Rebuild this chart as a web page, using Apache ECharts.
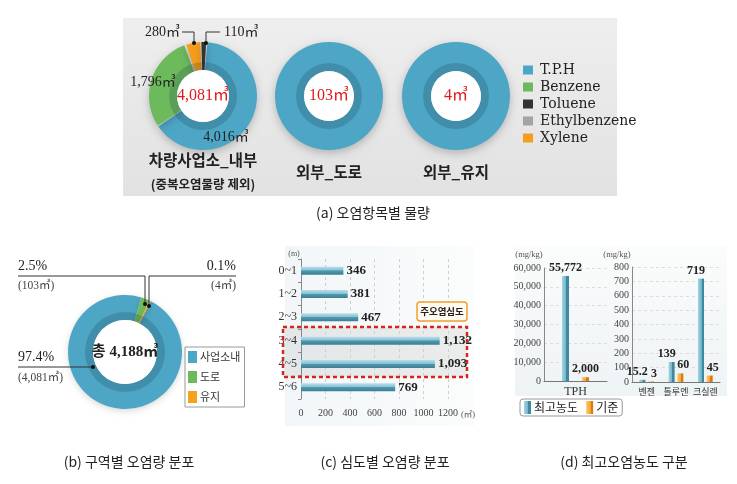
<!DOCTYPE html>
<html><head><meta charset="utf-8">
<script src="https://cdn.jsdelivr.net/npm/echarts@6/dist/echarts.min.js"></script>
<style>html,body{margin:0;padding:0;background:#fff}#c{width:737px;height:484px}</style>
</head><body><div id="c"></div>
<script>
// ---------- data ----------
const legendItemsA = ['T.P.H','Benzene','Toluene','Ethylbenzene','Xylene'];
const itemColors = {'T.P.H':'#4da6c5','Benzene':'#6dba5c','Toluene':'#333333','Ethylbenzene':'#a3a3a3','Xylene':'#f59d1c'};
const insideItems = ['T.P.H','Benzene','Ethylbenzene','Xylene','Toluene'];
const insideValues = [4016, 1796, 0, 280, 110];
const zoneNames = ['차량사업소_내부','외부_도로','외부_유지'];
const zoneTotals = [4081, 103, 4];
const roadValues = [103];
const parkValues = [4];

const areaNames = ['사업소내','도로','유지'];
const areaValues = [4081, 103, 4];
const areaColors = ['#4da6c5','#6dba5c','#f5a11c'];

const depthCats = ['0~1','1~2','2~3','3~4','4~5','5~6'];
const depthValues = [346, 381, 467, 1132, 1093, 769];
const depthTicks = [0, 1200, 200];

const tphCats = ['TPH'];
const tphMax = [55772];
const tphStd = [2000];
const btxCats = ['벤젠','톨루엔','크실렌'];
const btxMax = [15.2, 139, 719];
const btxStd = [3, 60, 45];

const captions = ['(a) 오염항목별 물량','(b) 구역별 오염량 분포','(c) 심도별 오염량 분포','(d) 최고오염농도 구분'];

// ---------- helpers ----------
const fmt = v => echarts.format.addCommas(v);
const serif = "'Liberation Serif','DejaVu Serif','Noto Sans CJK KR',serif";
const kr = "'Noto Sans CJK KR',sans-serif";
function T(text, x, y, o) {
  o = o || {};
  const al = o.align || 'center';
  return {type:'text', z: o.z || 50, silent:true, style:{text:text, x:x, y:y, fill:o.fill || '#222',
    font:(o.weight || 'normal') + ' ' + (o.size || 13) + 'px ' + (o.family || serif),
    align:al, textAlign:al, verticalAlign:'middle', textVerticalAlign:'middle'}};
}
function line(points, z) { return {type:'polyline', z: z || 60, silent:true, shape:{points:points}, style:{stroke:'#333', lineWidth:1, fill:null}}; }
function dot(x, y) { return {type:'circle', z:61, silent:true, shape:{cx:x, cy:y, r:2}, style:{fill:'#111'}}; }

function donut(center, data, r0, r1, start, pad, extra) {
  return [
    Object.assign({type:'pie', center:center, radius:[r0, r1], startAngle:start, clockwise:true, padAngle:pad,
      label:{show:false}, labelLine:{show:false}, silent:true, z:2,
      itemStyle:{shadowBlur:8, shadowColor:'rgba(0,0,0,0.22)', shadowOffsetY:3}, data:data}, extra || {}),
    {type:'pie', center:center, radius:[r0, r0 + 8], silent:true, z:3, label:{show:false}, labelLine:{show:false},
      itemStyle:{color:'rgba(20,50,70,0.2)'}, data:[{value:1, name:'_band'}]},
    {type:'pie', center:center, radius:[0, r0], silent:true, z:3, label:{show:false}, labelLine:{show:false},
      itemStyle:{color:'#fff'}, data:[{value:1, name:'_hole'}]}
  ];
}

const insideData = insideItems.map((n, i) => ({name:n, value:insideValues[i], itemStyle:{color:itemColors[n]}}));
const roadData = [{name:'T.P.H', value:roadValues[0], itemStyle:{color:itemColors['T.P.H']}}];
const parkData = [{name:'T.P.H', value:parkValues[0], itemStyle:{color:itemColors['T.P.H']}}];
const areaData = areaNames.map((n, i) => ({name:n, value:areaValues[i], itemStyle:{color:areaColors[i]}}));
const areaSum = areaValues.reduce((a, b) => a + b, 0);
const pct = v => (v / areaSum * 100).toFixed(1) + '%';

const blueBar = {type:'linear', x:0, y:0, x2:1, y2:0, colorStops:[{offset:0,color:'#a3d4e2'},{offset:0.62,color:'#6ab3c8'},{offset:0.63,color:'#3f889e'},{offset:1,color:'#3f889e'}]};
const orangeBar = {type:'linear', x:0, y:0, x2:1, y2:0, colorStops:[{offset:0,color:'#fcc862'},{offset:0.62,color:'#f7a531'},{offset:0.63,color:'#dc7a0e'},{offset:1,color:'#dc7a0e'}]};
const depthBar = {type:'linear', x:0, y:0, x2:0, y2:1, colorStops:[{offset:0,color:'#b9dfea'},{offset:0.45,color:'#86c1d3'},{offset:0.5,color:'#5298ae'},{offset:1,color:'#3c7f95'}]};

const valLabel = {show:true, position:'top', distance:2, formatter:p => fmt(p.value), fontFamily:serif, fontSize:12, fontWeight:'bold', color:'#222'};

// ---------- graphic ----------
const g = [];
// backgrounds
g.push({type:'rect', z:-5, silent:true, shape:{x:123, y:18, width:494, height:178},
  style:{fill:{type:'linear', x:0, y:0, x2:0, y2:1, colorStops:[{offset:0,color:'#eeeeee'},{offset:1,color:'#e2e2e2'}]}}});
g.push({type:'rect', z:-5, silent:true, shape:{x:285, y:246, width:190, height:180},
  style:{fill:{type:'linear', x:0, y:0, x2:1, y2:0, colorStops:[{offset:0,color:'#f2f6f8'},{offset:1,color:'#fbfcfc'}]}}});
g.push({type:'rect', z:-5, silent:true, shape:{x:515, y:246, width:212, height:150},
  style:{fill:{type:'linear', x:0, y:0, x2:0, y2:1, colorStops:[{offset:0,color:'#fbfcfc'},{offset:1,color:'#eef3f5'}]}}});
// main-depth highlight
g.push({type:'rect', z:-4, silent:true, shape:{x:283, y:327, width:184, height:50}, style:{fill:'rgba(150,150,150,0.15)'}});
g.push({type:'rect', z:100, silent:true, shape:{x:283, y:327, width:184, height:50}, style:{fill:null, stroke:'#d4261c', lineWidth:2.5, lineDash:[4,3]}});
g.push({type:'rect', z:100, silent:true, shape:{x:417, y:302, width:50, height:19, r:3}, style:{fill:'#fffaf0', stroke:'#f0a030', lineWidth:1.5}});
g.push(T('주오염심도', 442, 311.5, {family:kr, size:9.5, weight:'bold', z:101}));
g.push(T('(m)', 294, 254, {size:8, fill:'#555'}));
g.push(T('(㎥)', 461, 415, {size:8.5, fill:'#555', align:'left'}));
g.push(T('(mg/kg)', 529, 255, {size:8.5, fill:'#555'}));
g.push(T('(mg/kg)', 617, 255, {size:8.5, fill:'#555'}));

// (a) texts
g.push(T(fmt(insideValues[3]) + '㎥', 180, 32, {size:14, align:'right'}));
g.push(line([[182,32],[194,32],[194,43]]));
g.push(dot(194, 43));
g.push(T(fmt(insideValues[4]) + '㎥', 224, 32, {size:14, align:'left'}));
g.push(line([[220,32],[206,32],[206,43]]));
g.push(dot(206, 43));
g.push(T(fmt(insideValues[1]) + '㎥', 153, 82, {size:14}));
g.push(T(fmt(insideValues[0]) + '㎥', 226, 137, {size:14}));
[203, 329, 456].forEach((x, i) => {
  g.push(T(fmt(zoneTotals[i]) + '㎥', x, 96, {size:16, fill:'#e0191b'}));
});
g.push(T(zoneNames[0], 203, 160, {family:kr, size:15.5, weight:'bold'}));
g.push(T('(중복오염물량 제외)', 203, 184, {family:kr, size:12.5, weight:'bold'}));
g.push(T(zoneNames[1], 329, 172, {family:kr, size:15.5, weight:'bold'}));
g.push(T(zoneNames[2], 456, 172, {family:kr, size:15.5, weight:'bold'}));

// (b) texts
g.push(T('총 ' + fmt(areaSum) + '㎥', 125, 352, {size:15, weight:'bold'}));
g.push(T(pct(areaValues[1]), 18, 266, {size:14, align:'left'}));
g.push(T('(' + fmt(areaValues[1]) + '㎥)', 18, 286, {size:11.5, align:'left', fill:'#444'}));
g.push(line([[18,276],[145,276],[145,304]]));
g.push(dot(145, 304));
g.push(T(pct(areaValues[2]), 236, 266, {size:14, align:'right'}));
g.push(T('(' + fmt(areaValues[2]) + '㎥)', 236, 286, {size:11.5, align:'right', fill:'#444'}));
g.push(line([[236,276],[149,276],[149,306]]));
g.push(dot(149, 306));
g.push(T(pct(areaValues[0]), 18, 357, {size:14, align:'left'}));
g.push(T('(' + fmt(areaValues[0]) + '㎥)', 18, 378, {size:11.5, align:'left', fill:'#444'}));
g.push(line([[18,367],[93,367]]));
g.push(dot(93, 367));

// captions
g.push(T(captions[0], 373, 213, {family:kr, size:14}));
g.push(T(captions[1], 129, 462, {family:kr, size:14}));
g.push(T(captions[2], 385, 462, {family:kr, size:14}));
g.push(T(captions[3], 624, 462, {family:kr, size:14}));

// ---------- option ----------
const option = {
  animation:false,
  backgroundColor:'#fff',
  legend:[
    {data:legendItemsA, orient:'vertical', left:518, top:58, itemWidth:10, itemHeight:9, itemGap:3, icon:'rect',
      textStyle:{fontFamily:"'DejaVu Serif',serif", fontSize:14, color:'#222', padding:[0,0,0,2]}},
    {data:areaNames, orient:'vertical', left:185, top:347, itemWidth:9, itemHeight:12, itemGap:8, icon:'rect',
      borderColor:'#999', borderWidth:1, padding:[4,4,4,3],
      textStyle:{fontFamily:kr, fontSize:11, color:'#333', padding:[0,0,0,-2]}},
    {data:['최고농도','기준'], orient:'horizontal', left:520, top:399, itemWidth:7, itemHeight:13, itemGap:8, icon:'rect',
      borderColor:'#999', borderWidth:1, borderRadius:3, padding:[2,4,2,4],
      textStyle:{fontFamily:kr, fontSize:12, color:'#222', padding:[0,0,0,-2]}}
  ],
  grid:[
    {left:301, top:259, width:147, height:140},
    {left:544, top:268, width:63, height:113},
    {left:632, top:267, width:88, height:115}
  ],
  xAxis:[
    {type:'value', gridIndex:0, min:depthTicks[0], max:depthTicks[1], interval:depthTicks[2],
      axisLine:{show:false}, axisTick:{show:false},
      splitLine:{show:true, lineStyle:{color:'#cfcfcf', type:[3,3]}},
      axisLabel:{fontFamily:serif, fontSize:10, color:'#444', margin:9, showMinLabel:true, showMaxLabel:true, hideOverlap:false, formatter:v => String(v)}},
    {type:'category', gridIndex:1, data:tphCats, axisLine:{lineStyle:{color:'#777'}}, axisTick:{show:false},
      axisLabel:{fontFamily:serif, fontSize:12, color:'#333', margin:5}},
    {type:'category', gridIndex:2, data:btxCats, axisLine:{lineStyle:{color:'#777'}}, axisTick:{show:false},
      axisLabel:{fontFamily:kr, fontSize:9, color:'#333', margin:5, interval:0, hideOverlap:false}}
  ],
  yAxis:[
    {type:'category', gridIndex:0, data:depthCats, inverse:true,
      axisLine:{show:true, lineStyle:{color:'#888'}}, axisTick:{show:true, length:3, lineStyle:{color:'#888'}},
      axisLabel:{fontFamily:serif, fontSize:12, color:'#333', margin:4}},
    {type:'value', gridIndex:1, min:0, max:60000, interval:10000,
      axisLine:{show:true, lineStyle:{color:'#888'}}, axisTick:{show:false},
      splitLine:{show:true, lineStyle:{color:'#dcdcdc', type:[3,3]}},
      axisLabel:{fontFamily:serif, fontSize:10, color:'#444', margin:3, formatter:v => fmt(v)}},
    {type:'value', gridIndex:2, min:0, max:800, interval:100,
      axisLine:{show:true, lineStyle:{color:'#888'}}, axisTick:{show:false},
      splitLine:{show:true, lineStyle:{color:'#dcdcdc', type:[3,3]}},
      axisLabel:{fontFamily:serif, fontSize:10, color:'#444', margin:3}}
  ],
  series:[].concat(
    donut([203,96], insideData, 26, 54, 86, 1.2),
    donut([329,96], roadData, 25, 54, 90, 0),
    donut([456,96], parkData, 25, 54, 90, 0),
    donut([125,352], areaData, 32, 57, 63, 0, {minAngle:1.5, itemStyle:{shadowBlur:6, shadowColor:'rgba(0,0,0,0.15)', shadowOffsetY:2}}),
    [
      {type:'bar', name:'심도별', xAxisIndex:0, yAxisIndex:0, data:depthValues, barWidth:8,
        itemStyle:{color:depthBar}, label:{show:true, position:'right', distance:3, formatter:p => fmt(p.value),
          fontFamily:serif, fontSize:13, fontWeight:'bold', color:'#222'}},
      {type:'bar', name:'최고농도', xAxisIndex:1, yAxisIndex:1, data:tphMax, barWidth:7, barGap:'185%', itemStyle:{color:blueBar}, label:valLabel},
      {type:'bar', name:'기준', xAxisIndex:1, yAxisIndex:1, data:tphStd, barWidth:7, barGap:'185%', itemStyle:{color:orangeBar}, label:valLabel},
      {type:'bar', name:'최고농도', xAxisIndex:2, yAxisIndex:2, data:btxMax, barWidth:6, barGap:'45%', itemStyle:{color:blueBar},
        label:Object.assign({}, valLabel, {offset:[-5,0]})},
      {type:'bar', name:'기준', xAxisIndex:2, yAxisIndex:2, data:btxStd, barWidth:6, barGap:'45%', itemStyle:{color:orangeBar},
        label:Object.assign({}, valLabel, {offset:[3,0]})}
    ]
  ),
  graphic:{elements:g}
};
const chart = echarts.init(document.getElementById('c'), null, {renderer:'canvas'});
chart.setOption(option);
</script></body></html>
